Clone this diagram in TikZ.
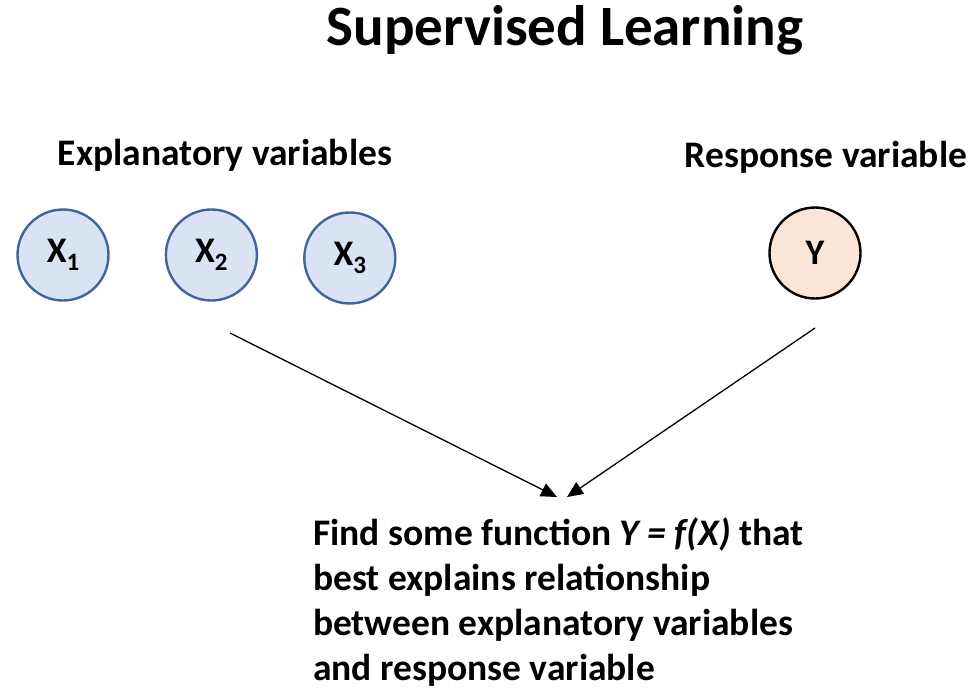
\documentclass[tikz,border=0pt]{standalone}
\usepackage{fontspec}
\setmainfont{Carlito}
\usetikzlibrary{arrows.meta,positioning,calc}
\definecolor{Ink}{HTML}{000000}
\definecolor{VarFill}{HTML}{DAE3F3}
\definecolor{VarLine}{HTML}{41649B}
\definecolor{ResFill}{HTML}{FBE5D6}
\newcommand{\lowidx}[1]{\raisebox{-0.45ex}{\fontsize{25}{25}\selectfont #1}}

\begin{document}
\begin{tikzpicture}[x=1pt,y=-1pt,node distance=55pt,
    var/.style={circle,draw=VarLine,fill=VarFill,line width=2.4pt,minimum size=91pt,inner sep=0pt,font=\fontsize{36}{36}\selectfont\bfseries},
    res/.style={circle,draw=Ink,fill=ResFill,line width=2.4pt,minimum size=91pt,inner sep=0pt,font=\fontsize{36}{36}\selectfont\bfseries},
    head/.style={inner sep=0pt,font=\fontsize{37.5}{37.5}\selectfont\bfseries},
    link/.style={line width=1.3pt,-{Triangle[length=16pt,width=14pt]},Ink}]
    \useasboundingbox (0,0) rectangle (980,688);
    \node[inner sep=0pt,font=\fontsize{57}{57}\selectfont\bfseries] (title) at (565,30) {Supervised Learning};
    \node[head] (explab) at (225,155) {Explanatory variables};
    \node[head] (reslab) at (826,157) {Response variable};
    \node[var] (x1) at (63,255) {X\lowidx{1}};
    \node[var,right=55pt of x1] (x2) {X\lowidx{2}};
    \node[var,right=45pt of x2,yshift=-3pt] (x3) {X\lowidx{3}};
    \node[res] (y) at (815,253) {Y};
    \node[inner sep=0pt,anchor=north west,align=left,font=\fontsize{37.5}{45}\selectfont\bfseries] (goal) at (313,518)
      {Find some function \textit{Y = f(X)} that\\best explains relationship\\between explanatory variables\\and response variable};
    \coordinate (fromx) at (230,333);
    \coordinate (fromy) at (815,328);
    \coordinate (tox) at (557,497);
    \coordinate (toy) at (567,497);
    \draw[link] (fromx) -- (tox);
    \draw[link] (fromy) -- (toy);
\end{tikzpicture}
\end{document}
